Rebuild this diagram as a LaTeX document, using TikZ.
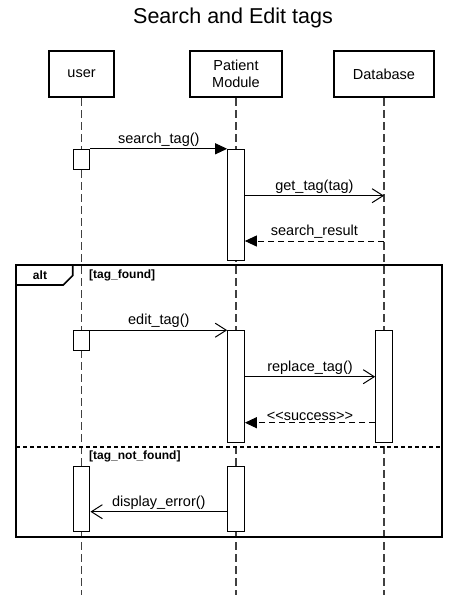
\documentclass[tikz,border=0pt]{standalone}
\usepackage{fontspec}
\setmainfont{Liberation Sans}
\usetikzlibrary{arrows.meta}
\begin{document}
\begin{tikzpicture}[x=1pt,y=-1pt,
  head/.style={draw, line width=2pt, minimum height=46pt, inner sep=0pt, align=center, font=\fontsize{14.5}{17.5}\selectfont},
  lifeline/.style={draw=black!75, line width=1.2pt, dash pattern=on 8pt off 4pt},
  act/.style={draw, fill=white, line width=1pt, minimum width=16.7pt, inner sep=0pt},
  msg/.style={line width=1pt},
  sync/.style={msg, -{Triangle[length=12pt,width=11pt]}},
  call/.style={msg, -{Straight Barb[length=11pt,width=14pt,line width=1pt]}},
  reply/.style={msg, dash pattern=on 6pt off 4pt, -{Triangle[length=12pt,width=11pt]}},
  lbl/.style={midway, above=1pt, inner sep=1pt, font=\fontsize{14.5}{17}\selectfont},
  guard/.style={font=\fontsize{12}{14}\selectfont\bfseries, inner sep=0pt}
]
\useasboundingbox (0,0) rectangle (466,595);

% title
\node[font=\fontsize{21.5}{25}\selectfont] (title) at (233,18) {Search and Edit tags};

% participants
\node[head, minimum width=65pt]  (user) at (81.6,74) {user};
\node[head, minimum width=92pt]  (pm)   at (236,74)  {Patient\\Module};
\node[head, minimum width=100pt] (db)   at (384,74)  {Database};

% lifeline ends
\coordinate (userEnd) at (81.6,595);
\coordinate (pmEnd)   at (236,595);
\coordinate (dbEnd)   at (384,595);
\draw[lifeline] (user.south) -- (userEnd);
\draw[lifeline] (pm.south) -- (pmEnd);
\draw[lifeline] (db.south) -- (dbEnd);

% alt combined fragment
\draw[line width=2pt] (16,265) rectangle (441.7,536.7);
\draw[line width=1.6pt] (16,285) -- (63.3,285) -- (72.7,275.5) -- (72.7,265);
\node[guard] (altlbl) at (40,275) {alt};
\node[guard, anchor=west] (g1) at (89,275) {[tag\_found]};
\draw[line width=2pt, dash pattern=on 4pt off 3pt] (16,446.7) -- (441.7,446.7);
\node[guard, anchor=west] (g2) at (89,456) {[tag\_not\_found]};

% activation bars
\node[act, minimum height=20pt]    (ua1) at (81.6,159.3) {};
\node[act, minimum height=111.4pt] (pa1) at (236,205)   {};
\node[act, minimum height=20pt]    (ua2) at (81.6,340.7) {};
\node[act, minimum height=111.6pt] (pa2) at (236,386.5) {};
\node[act, minimum height=111.6pt] (da2) at (384,386.5) {};
\node[act, minimum height=65pt]    (ua3) at (81.6,499.2) {};
\node[act, minimum height=65pt]    (pa3) at (236,499.2) {};

% message end points on the database lifeline
\coordinate (dbGet) at (384,195.7);
\coordinate (dbRes) at (384,241);

% messages
\draw[sync] (ua1.north east) -- node[lbl] {search\_tag()} (pa1.north west);
\draw[call] (pa1.east |- dbGet) -- node[lbl] {get\_tag(tag)} (dbGet);
\draw[reply] (dbRes) -- node[lbl] {search\_result} (pa1.east |- dbRes);

\draw[call] (ua2.north east) -- node[lbl] {edit\_tag()} (pa2.north west);
\coordinate (rep) at (0,376.7);
\coordinate (suc) at (0,422.7);
\draw[call] (pa2.east |- rep) -- node[lbl] {replace\_tag()} (da2.west |- rep);
\draw[reply] (da2.west |- suc) -- node[lbl] {<{}<success>{}>} (pa2.east |- suc);

\coordinate (err) at (0,511.7);
\draw[call] (pa3.west |- err) -- node[lbl] {display\_error()} (ua3.east |- err);
\end{tikzpicture}
\end{document}
